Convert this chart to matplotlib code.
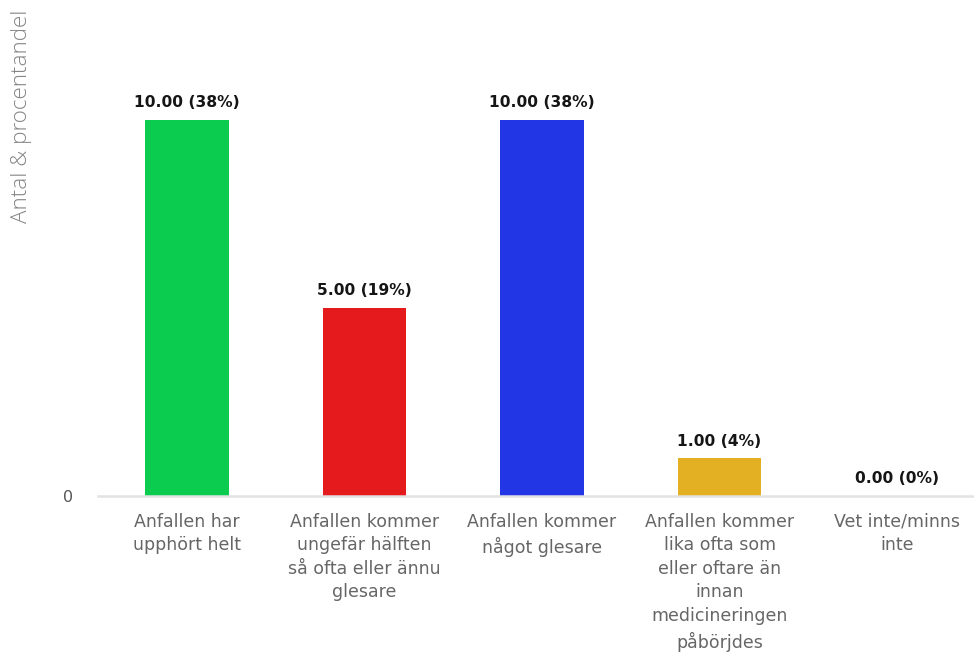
import matplotlib
matplotlib.use("Agg")
import matplotlib.pyplot as plt

plt.rcParams["font.family"] = ["DejaVu Sans"]

categories = [
    "Anfallen har\nupphört helt",
    "Anfallen kommer\nungefär hälften\nså ofta eller ännu\nglesare",
    "Anfallen kommer\nnågot glesare",
    "Anfallen kommer\nlika ofta som\neller oftare än\ninnan\nmedicineringen\npåbörjdes",
    "Vet inte/minns\ninte",
]
counts = [10, 5, 10, 1, 0]
percents = [38, 19, 38, 4, 0]
colors = ["#0ccc50", "#e41a1c", "#2236e6", "#e3b024", "#9e9e9e"]

W, H = 974, 653
fig = plt.figure(figsize=(W / 100, H / 100), dpi=100)
# axes in pixel coordinates: left 98, right 986, top 10, baseline 496
left, right, top, base = 98, 986, 10, 496
ax = fig.add_axes([left / W, 1 - base / H, (right - left) / W, (base - top) / H])

x = list(range(len(categories)))
ax.bar(x, counts, width=0.47, color=colors, zorder=2)
ax.set_xlim(-0.5, len(categories) - 0.5)
ax.set_ylim(0, 12.93)

for xi, c, p in zip(x, counts, percents):
    ax.annotate(f"{c:.2f} ({p}%)", (xi, c), xytext=(0, 7), textcoords="offset points",
                ha="center", va="bottom", fontsize=11.2, fontweight="bold",
                color="#151515")

for s in ["top", "right", "left"]:
    ax.spines[s].set_visible(False)
ax.spines["bottom"].set_color("#e3e3e3")
ax.spines["bottom"].set_linewidth(1.8)

ax.set_yticks([0])
ax.set_yticklabels(["0"], fontsize=11.5, color="#555555")
ax.tick_params(axis="y", length=0, pad=18)
ax.set_xticks(x)
ax.set_xticklabels(categories, fontsize=12.5, color="#666666", linespacing=1.4,
                   va="top")
ax.tick_params(axis="x", length=0, pad=12)

fig.text(22 / W, 1 - 116 / H, "Antal & procentandel", rotation=90, ha="center",
         va="center", fontsize=16.2, color="#858585", family="Open Sans",
         fontweight="light")

fig.savefig("out.png", dpi=100, facecolor="white")
